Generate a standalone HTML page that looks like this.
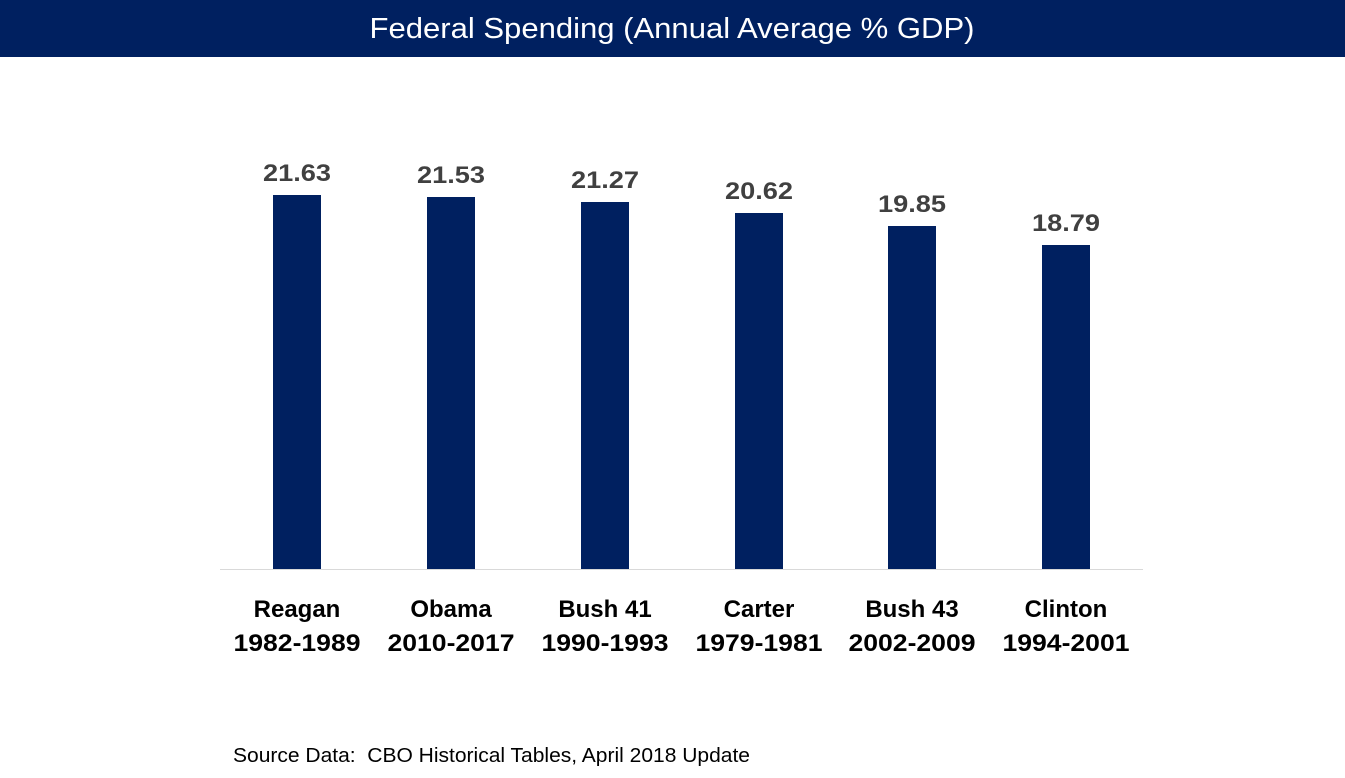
<!DOCTYPE html>
<html><head><meta charset="utf-8"><style>
html,body{margin:0;padding:0;background:#fff;width:1345px;height:778px;overflow:hidden}
</style></head><body>
<svg width="1345" height="778" viewBox="0 0 1345 778" xmlns="http://www.w3.org/2000/svg" font-family="Liberation Sans, sans-serif">
<rect x="0" y="0" width="1345" height="57" fill="#002060"/>
<text x="672" y="38" fill="#fff" font-size="29" text-anchor="middle" textLength="605" lengthAdjust="spacingAndGlyphs">Federal Spending (Annual Average % GDP)</text>
<line x1="220" y1="569.5" x2="1143" y2="569.5" stroke="#d9d9d9" stroke-width="1"/>
<g fill="#002060">
<rect x="273" y="195" width="48" height="374"/>
<rect x="427" y="197" width="48" height="372"/>
<rect x="581" y="202" width="48" height="367"/>
<rect x="735" y="213" width="48" height="356"/>
<rect x="888" y="226" width="48" height="343"/>
<rect x="1042" y="245" width="48" height="324"/>
</g>
<g fill="#404040" font-size="24" font-weight="bold" text-anchor="middle">
<text x="297" y="181" textLength="68" lengthAdjust="spacingAndGlyphs">21.63</text>
<text x="451" y="183" textLength="68" lengthAdjust="spacingAndGlyphs">21.53</text>
<text x="605" y="188" textLength="68" lengthAdjust="spacingAndGlyphs">21.27</text>
<text x="759" y="199" textLength="68" lengthAdjust="spacingAndGlyphs">20.62</text>
<text x="912" y="212" textLength="68" lengthAdjust="spacingAndGlyphs">19.85</text>
<text x="1066" y="231" textLength="68" lengthAdjust="spacingAndGlyphs">18.79</text>
</g>
<g fill="#000" font-size="24" font-weight="bold" text-anchor="middle">
<text x="297" y="617">Reagan</text><text x="297" y="651" textLength="127" lengthAdjust="spacingAndGlyphs">1982-1989</text>
<text x="451" y="617">Obama</text><text x="451" y="651" textLength="127" lengthAdjust="spacingAndGlyphs">2010-2017</text>
<text x="605" y="617">Bush 41</text><text x="605" y="651" textLength="127" lengthAdjust="spacingAndGlyphs">1990-1993</text>
<text x="759" y="617">Carter</text><text x="759" y="651" textLength="127" lengthAdjust="spacingAndGlyphs">1979-1981</text>
<text x="912" y="617">Bush 43</text><text x="912" y="651" textLength="127" lengthAdjust="spacingAndGlyphs">2002-2009</text>
<text x="1066" y="617">Clinton</text><text x="1066" y="651" textLength="127" lengthAdjust="spacingAndGlyphs">1994-2001</text>
</g>
<text x="233" y="762" fill="#000" font-size="20" textLength="517" lengthAdjust="spacingAndGlyphs" xml:space="preserve">Source Data:  CBO Historical Tables, April 2018 Update</text>
</svg>
</body></html>
